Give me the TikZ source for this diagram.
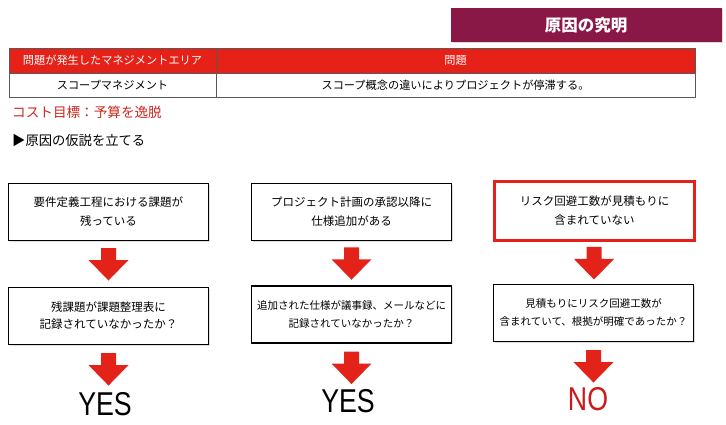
\documentclass[tikz,border=0pt]{standalone}
\usepackage{fontspec}
\setmainfont{Noto Sans CJK JP}
\newfontfamily\latinfont[FakeStretch=0.81]{Liberation Sans}
\usetikzlibrary{shadows,positioning,calc}
\definecolor{titlemag}{HTML}{8A1847}
\definecolor{hdrred}{HTML}{E52118}
\definecolor{txtred}{HTML}{C9271F}
\definecolor{arrred}{HTML}{E3231A}
\definecolor{nored}{HTML}{CC1A1A}
\tikzset{
  cell/.style={draw=gray!70!black, line width=0.7pt, inner sep=0pt, font=\fontsize{11.2}{12}\selectfont},
  hdrcell/.style={cell, fill=hdrred, text=white, font=\fontsize{11.2}{12}\selectfont},
  flowbox/.style={draw=black, line width=1.1pt, fill=white, minimum width=200pt, minimum height=57pt, inner sep=0pt, align=center,
    drop shadow={shadow xshift=1.2pt, shadow yshift=-1.2pt, opacity=0.25}},
  topbox/.style={flowbox, font=\fontsize{11.5}{19}\selectfont},
  botbox/.style={flowbox, font=\fontsize{10.5}{18}\selectfont},
  redbox/.style={topbox, draw=hdrred, line width=3pt, minimum width=200pt, minimum height=59pt},
  answer/.style={font=\latinfont\fontsize{33}{33}\selectfont, inner sep=0pt},
  downarrow/.pic={\fill[arrred] (-7.5pt,16pt) -- (7.5pt,16pt) -- (7.5pt,4pt) -- (20pt,4pt) -- (0pt,-16.5pt) -- (-20pt,4pt) -- (-7.5pt,4pt) -- cycle;}
}
\begin{document}
\begin{tikzpicture}[x=1pt,y=-1pt]
\useasboundingbox (0,0) rectangle (726,424);
% title
\node[fill=titlemag, minimum width=271pt, minimum height=34pt, inner sep=0pt, text=white,
  font=\fontsize{16.5}{18}\selectfont\bfseries,
  drop shadow={shadow xshift=1pt, shadow yshift=-1pt, opacity=0.3}] (title) at (586,25) {原因の究明};
% table
\node[hdrcell, minimum width=207pt, minimum height=25pt] (h1) at (112.5,60.5) {問題が発生したマネジメントエリア};
\node[hdrcell, minimum width=479pt, minimum height=25pt] (h2) at (455.5,60.5) {問題};
\node[cell, minimum width=207pt, minimum height=24pt] (c1) at (112.5,85) {スコープマネジメント};
\node[cell, minimum width=479pt, minimum height=24pt] (c2) at (455.5,85) {スコープ概念の違いによりプロジェクトが停滞する。};
% notes
\node[anchor=west, inner sep=0pt, text=txtred, font=\fontsize{13.6}{15}\selectfont] (goal) at (12,112) {コスト目標：予算を逸脱};
\node[anchor=west, inner sep=0pt, font=\fontsize{13.3}{15}\selectfont] (hyp) at (12,140) {▶原因の仮説を立てる};
% column 1
\node[topbox] (a1) at (108.5,212) {要件定義工程における課題が\\残っている};
\node[botbox, font=\fontsize{11.5}{17}\selectfont] (a2) at (108.5,316) {残課題が課題整理表に\\記録されていなかったか？};
\node[answer] (a3) at (105,404) {YES};
% column 2
\node[topbox] (b1) at (351.5,212) {プロジェクト計画の承認以降に\\仕様追加がある};
\node[botbox] (b2) at (351.5,314.5) {追加された仕様が議事録、メールなどに\\記録されていなかったか？};
\node[answer] (b3) at (348,401) {YES};
% column 3
\node[redbox] (r1) at (594.5,211) {リスク回避工数が見積もりに\\含まれていない};
\node[botbox] (r2) at (593.5,313) {見積もりにリスク回避工数が\\含まれていて、根拠が明確であったか？};
\node[answer, text=nored] (r3) at (588,399) {NO};
% arrows
\path ($(a1.south)!0.5!(a2.north)$) pic {downarrow};
\path ($(b1.south)!0.5!(b2.north)$) pic {downarrow};
\path ($(r1.south)!0.5!(r2.north)$) pic {downarrow};
\path (a2.south) ++(0,24) pic {downarrow};
\path (b2.south) ++(0,24) pic {downarrow};
\path (r2.south) ++(0,24) pic {downarrow};
\end{tikzpicture}
\end{document}
